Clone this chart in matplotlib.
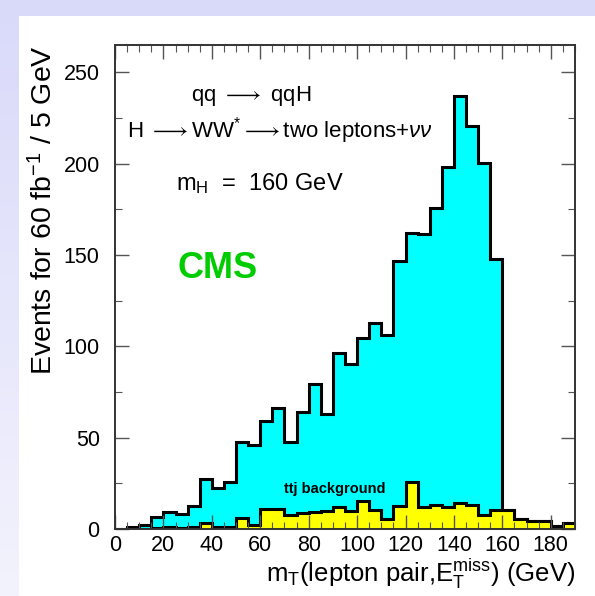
import numpy as np
import matplotlib.pyplot as plt

plt.rcParams['font.family'] = ['Liberation Sans', 'DejaVu Sans']
plt.rcParams['mathtext.fontset'] = 'custom'
plt.rcParams['mathtext.rm'] = 'Liberation Sans'
plt.rcParams['mathtext.it'] = 'Liberation Sans:italic'
plt.rcParams['mathtext.fallback'] = 'stixsans'

# 5 GeV bins, 0 - 190 GeV
bin_edges = np.arange(0, 195, 5)

# signal + ttj background per bin
total_events = [0, 1, 2, 6.5, 9.5, 8, 12.5, 27.5, 22.5, 26,
                47.5, 46, 59, 66.5, 47.5, 64, 79.5, 63, 96.5, 90.5,
                104.5, 113, 106, 147, 162, 161.5, 176, 198, 237, 220.5,
                200.5, 148, 10.5, 5.6, 4.6, 4.6, 1.4, 3.2]

# ttj background per bin
ttj_events = [0, 0, 0, 0.5, 1, 0.5, 1, 3.3, 1, 1,
              6, 2, 11, 11, 7.7, 8.8, 9.2, 9.8, 11.8, 9.6,
              15.2, 10.5, 5.6, 12.5, 25.6, 12.3, 13.2, 11.9, 14.1, 13.4,
              7.4, 10.5, 10.5, 5.6, 4.6, 4.6, 1.4, 3.2]

x_ticks = [0, 20, 40, 60, 80, 100, 120, 140, 160, 180]
y_ticks = [0, 50, 100, 150, 200, 250]

fig = plt.figure(figsize=(5.95, 5.96), dpi=100)

# slide-style lavender border: strip on top, fading strip on the left
H, W = 596, 595
bg = np.ones((H, W, 3))
top_col = np.array([217, 217, 250]) / 255
bot_col = np.array([243, 243, 253]) / 255
bg[:16, :] = top_col
fade = np.linspace(0, 1, H)[:, None]
bg[:, :19] = (top_col * (1 - fade) + bot_col * fade)[:, None, :]
bax = fig.add_axes([0, 0, 1, 1], zorder=-10)
bax.imshow(bg, aspect='auto')
bax.axis('off')

ax = fig.add_axes([0.1933, 0.1124, 0.7731, 0.8121])
ax.set_facecolor('white')

ax.stairs(total_events, bin_edges, fill=True, color='#00ffff', lw=0)
ax.stairs(total_events, bin_edges, color='black', lw=2.2, baseline=0)
ax.stairs(ttj_events, bin_edges, fill=True, color='#ffff00', lw=0)
ax.stairs(ttj_events, bin_edges, color='black', lw=2.2, baseline=None)

ax.set_xlim(0, 190)
ax.set_ylim(0, 265)
ax.set_xticks(x_ticks)
ax.set_xticks(bin_edges, minor=True)
ax.set_yticks(y_ticks)
ax.set_yticks(np.arange(0, 265, 25), minor=True)
ax.tick_params(which='both', direction='in', top=True, right=True,
               color='#555555', labelsize=15.5)
ax.tick_params(axis='x', pad=4)
ax.tick_params(axis='y', pad=11)
ax.tick_params(which='major', length=10, width=1)
ax.tick_params(which='minor', length=5, width=0.8)
for s in ax.spines.values():
    s.set_linewidth(1.4)
    s.set_color('#333333')

ax.set_xlabel(r'm$_{\rm T}$(lepton pair,E$_{\rm T}^{\rm miss}$) (GeV)',
              fontsize=18.5, loc='right', labelpad=1)
ax.set_ylabel(r'Events for 60 fb$^{-1}$ / 5 GeV', fontsize=20.5,
              loc='top', labelpad=4)

arrow = r'$\longrightarrow$'
ax.text(31.5, 237, 'qq ' + arrow + ' qqH', fontsize=16, va='center')
ax.text(5, 218, 'H ' + arrow + r'WW$^{*}$' + arrow + r'two leptons+$\nu\nu$',
        fontsize=16, va='center')
ax.text(25, 189, r'm$_{\rm H}$  =  160 GeV', fontsize=17, va='center')
ax.text(26, 142.5, 'CMS', fontsize=26, fontweight='bold', color='#00cc00',
        va='center')
ax.text(70, 22, 'ttj background', fontsize=10.5, fontweight='bold',
        va='center')

fig.savefig('out.png', dpi=100)
